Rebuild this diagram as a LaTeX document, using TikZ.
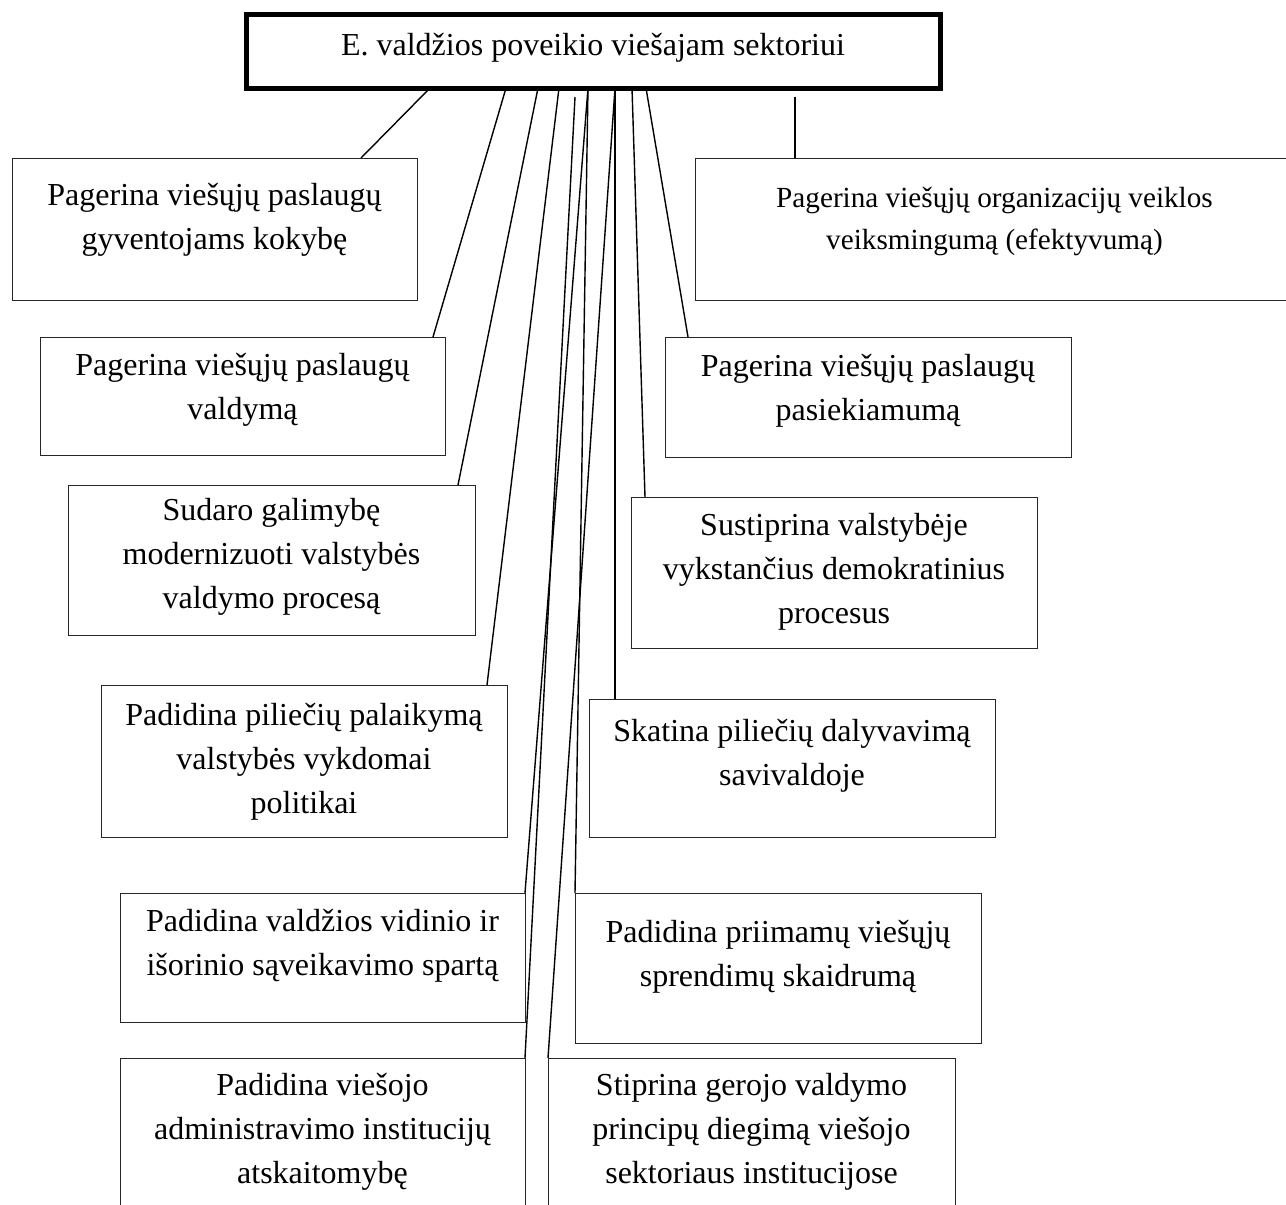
\documentclass[tikz,border=0pt]{standalone}
\usepackage{fontspec}
\setmainfont{Liberation Serif}
\tikzset{
    panel/.style={draw=black!85, line width=1pt, anchor=north west, outer sep=0pt, inner sep=0pt},
    boxtext/.style={align=center, font=\fontsize{32pt}{44pt}\selectfont, inner sep=0pt},
    smalltext/.style={align=center, font=\fontsize{29.2pt}{42pt}\selectfont, inner sep=0pt},
    link/.style={line width=1.4pt}
}

\begin{document}
\begin{tikzpicture}[x=1pt, y=-1pt]
\useasboundingbox (0,0) rectangle (1286,1205);
% main box
\node[draw, line width=5pt, minimum width=694pt, minimum height=74pt, outer sep=0pt] (root) at (593,51) {};
\node[boxtext, font=\fontsize{32pt}{38pt}\selectfont] (rootT) at (593,48) {E. valdžios poveikio viešajam sektoriui};

% left column
\node[panel, minimum width=405pt, minimum height=142pt] (gyv) at (12,158) {};
\node[boxtext] (gyvT) at (214.5,219.5) {Pagerina viešųjų paslaugų\\gyventojams kokybę};
\node[panel, minimum width=405pt, minimum height=118pt] (vald) at (40,337) {};
\node[boxtext] (valdT) at (242.5,389.5) {Pagerina viešųjų paslaugų\\valdymą};
\node[panel, minimum width=407pt, minimum height=150pt] (mod) at (68,485) {};
\node[boxtext] (modT) at (271.5,557) {Sudaro galimybę\\modernizuoti valstybės\\valdymo procesą};
\node[panel, minimum width=406pt, minimum height=152pt] (pal) at (101,685) {};
\node[boxtext] (palT) at (304,762) {Padidina piliečių palaikymą\\valstybės vykdomai\\politikai};
\node[panel, minimum width=405pt, minimum height=129pt] (spa) at (120,893) {};
\node[boxtext] (spaT) at (322.5,945.5) {Padidina valdžios vidinio ir\\išorinio sąveikavimo spartą};
\node[panel, minimum width=405pt, minimum height=160pt] (ats) at (120,1058) {};
\node[boxtext] (atsT) at (322.5,1132) {Padidina viešojo\\administravimo institucijų\\atskaitomybę};

% right column
\node[panel, minimum width=600pt, minimum height=142pt] (org) at (695,158) {};
\node[smalltext] (orgT) at (994.5,221) {Pagerina viešųjų organizacijų veiklos\\veiksmingumą (efektyvumą)};
\node[panel, minimum width=406pt, minimum height=120pt] (pas) at (665,337) {};
\node[boxtext] (pasT) at (868,390.5) {Pagerina viešųjų paslaugų\\pasiekiamumą};
\node[panel, minimum width=406pt, minimum height=151pt] (dem) at (631,497) {};
\node[boxtext] (demT) at (834,572) {Sustiprina valstybėje\\vykstančius demokratinius\\procesus};
\node[panel, minimum width=406pt, minimum height=138pt] (sav) at (589,699) {};
\node[boxtext] (savT) at (792,756) {Skatina piliečių dalyvavimą\\savivaldoje};
\node[panel, minimum width=406pt, minimum height=150pt] (skd) at (575,893) {};
\node[boxtext] (skdT) at (778,957) {Padidina priimamų viešųjų\\sprendimų skaidrumą};
\node[panel, minimum width=407pt, minimum height=160pt] (ger) at (548,1058) {};
\node[boxtext] (gerT) at (751.5,1132) {Stiprina gerojo valdymo\\principų diegimą viešojo\\sektoriaus institucijose};

% free line ends
\coordinate (freeL) at (575,97);
\coordinate (freeR) at (795,97);

% connectors
\draw[link] ([xshift=184pt]root.south west) -- ([xshift=349pt]gyv.north west);
\draw[link] ([xshift=260pt]root.south west) -- ([xshift=393pt]vald.north west);
\draw[link] ([xshift=292pt]root.south west) -- ([xshift=390pt]mod.north west);
\draw[link] ([xshift=313pt]root.south west) -- ([xshift=386pt]pal.north west);
\draw[link] ([xshift=342pt]root.south west) -- (spa.north east);
\draw[link] (freeL) -- (ats.north east);
\draw[link] ([xshift=342pt]root.south west) -- (skd.north west);
\draw[link] ([xshift=369pt]root.south west) -- ([xshift=26pt]sav.north west);
\draw[link] ([xshift=369pt]root.south west) -- (ger.north west);
\draw[link] ([xshift=386pt]root.south west) -- ([xshift=14pt]dem.north west);
\draw[link] ([xshift=400pt]root.south west) -- ([xshift=23pt]pas.north west);
\draw[link] (freeR) -- ([xshift=100pt]org.north west);
\end{tikzpicture}
\end{document}
